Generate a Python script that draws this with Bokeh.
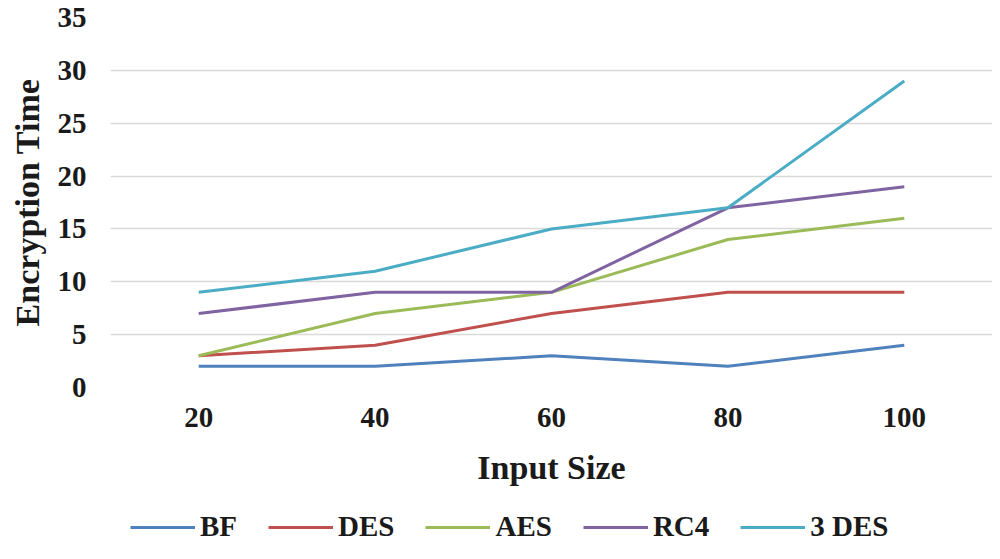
from bokeh.plotting import figure
from bokeh.layouts import column
from bokeh.models import Range1d, FixedTicker, FactorRange, Legend, LegendItem
from bokeh.embed import file_html
from bokeh.resources import INLINE

input_sizes = ["20", "40", "60", "80", "100"]
bf = [2, 2, 3, 2, 4]
des = [3, 4, 7, 9, 9]
aes = [3, 7, 9, 14, 16]
rc4 = [7, 9, 9, 17, 19]
des3 = [9, 11, 15, 17, 29]
y_ticks = [0, 5, 10, 15, 20, 25, 30, 35]

series = [
    ("BF", bf, "#4F81BD"),
    ("DES", des, "#C0504D"),
    ("AES", aes, "#9BBB59"),
    ("RC4", rc4, "#8064A2"),
    ("3 DES", des3, "#4BACC6"),
]

FONT = "Liberation Serif"
TXT = "#1a1a1a"

p = figure(width=992, height=495, output_backend="svg", toolbar_location=None,
           x_range=FactorRange(*input_sizes, range_padding=0),
           y_range=Range1d(0, 35),
           min_border_left=110, min_border_right=0, min_border_top=17,
           min_border_bottom=108)

for name, vals, color in series:
    p.line(input_sizes, vals, line_color=color, line_width=3)

p.outline_line_color = None
p.background_fill_color = "white"
p.border_fill_color = "white"

p.xgrid.grid_line_color = None
p.ygrid.grid_line_color = "#D9D9D9"
p.ygrid.grid_line_width = 1.5

p.yaxis.ticker = FixedTicker(ticks=y_ticks)
for ax in (p.xaxis[0], p.yaxis[0]):
    ax.axis_line_color = None
    ax.major_tick_line_color = None
    ax.minor_tick_line_color = None
    ax.major_tick_in = 0
    ax.major_tick_out = 0
    ax.minor_tick_out = 0
    ax.major_label_text_font = FONT
    ax.major_label_text_font_style = "bold"
    ax.major_label_text_font_size = "29px"
    ax.major_label_text_color = TXT
    ax.axis_label_text_font = FONT
    ax.axis_label_text_font_style = "bold"
    ax.axis_label_text_font_size = "34px"
    ax.axis_label_text_color = TXT

p.yaxis.axis_label = "Encryption Time"
p.yaxis.major_label_standoff = 24
p.yaxis.axis_label_standoff = 9
p.xaxis.axis_label = "Input Size"
p.xaxis.major_label_standoff = 20
p.xaxis.axis_label_standoff = 19

# legend strip below the chart (its series lie outside the strip's view,
# so only the legend entries show)
p2 = figure(width=992, height=48, output_backend="svg", toolbar_location=None,
            x_axis_location=None, y_axis_location=None,
            x_range=FactorRange(*input_sizes, range_padding=0),
            y_range=Range1d(100, 101),
            min_border_left=0, min_border_right=0, min_border_top=0,
            min_border_bottom=0)
p2.outline_line_color = None
p2.grid.visible = False
p2.background_fill_color = "white"
p2.border_fill_color = "white"
items = []
for name, vals, color in series:
    r = p2.line(input_sizes, vals, line_color=color, line_width=3)
    items.append(LegendItem(label=name, renderers=[r]))

lg = Legend(items=items, orientation="horizontal", location=(20, 0),
            glyph_width=65, glyph_height=30, label_standoff=5, spacing=31,
            padding=0, margin=0, border_line_color=None,
            background_fill_alpha=0,
            label_text_font=FONT, label_text_font_style="bold",
            label_text_font_size="29px", label_text_color=TXT)
p2.add_layout(lg, "center")

layout = column(p, p2, spacing=0)
open("out.html", "w").write(file_html(layout, INLINE))
